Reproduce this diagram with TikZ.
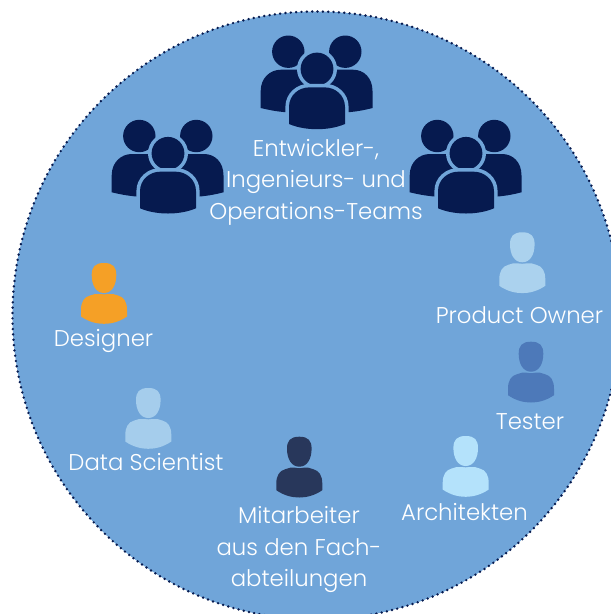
\documentclass[tikz,border=0pt]{standalone}
\usepackage{fontspec}
\setmainfont{Poppins}[UprightFont=* Light]
\definecolor{bgblue}{HTML}{70A5D9}
\definecolor{navy}{HTML}{061A4F}
\definecolor{cdesigner}{HTML}{F5A026}
\definecolor{cdata}{HTML}{A5CDEC}
\definecolor{cowner}{HTML}{ABD2EE}
\definecolor{ctester}{HTML}{4D79B9}
\definecolor{cfach}{HTML}{28375B}
\definecolor{carch}{HTML}{B4E2FB}
\tikzset{
  label text/.style={text=white,font=\fontsize{22.8}{31.5}\selectfont,inner sep=0pt,outer sep=0pt,align=center,anchor=base},
  person/.pic={
    \fill[#1] (-23,53.5) -- (-23,47) .. controls (-23,39) and (-20,34) .. (-14,32.5) -- (-9,31)
      -- (9,31) -- (14,32.5) .. controls (20,34) and (23,39) .. (23,47) -- (23,53.5)
      .. controls (15,59) and (7,60.8) .. (0,60.8) .. controls (-7,60.8) and (-15,59) .. (-23,53.5) -- cycle;
    \fill[#1,preaction={draw=bgblue,line width=2.6pt}] (0,0) .. controls (9,0) and (12.3,4) .. (12.3,12)
      .. controls (12.3,22) and (8,30) .. (0,30) .. controls (-8,30) and (-12.3,22) .. (-12.3,12)
      .. controls (-12.3,4) and (-9,0) .. (0,0) -- cycle;
  },
  team/.pic={
    \fill[navy] (-28.7,-17.3) circle[radius=16.2];
    \fill[navy] (28.3,-17.3) circle[radius=16.2];
    \fill[navy] (-56.3,39) -- (-56.3,22) .. controls (-56.3,9) and (-47,0.7) .. (-36,0.7)
       -- (36,0.7) .. controls (47,0.7) and (55.5,9) .. (55.5,22) -- (55.5,39)
       .. controls (46,41.5) and (37,43) .. (27,43.5) -- (-27,43.5)
       .. controls (-37,43) and (-46,41.5) .. (-56.3,39) -- cycle;
    \fill[navy,preaction={draw=bgblue,line width=7.2pt}] (0,0) circle[radius=16.4];
    \fill[navy,preaction={draw=bgblue,line width=7.2pt}] (-28,55) -- (-28,38) .. controls (-28,26) and (-18,18.4) .. (-8,18.4)
       -- (8,18.4) .. controls (18,18.4) and (28,26) .. (28,38) -- (28,55)
       .. controls (19,58.8) and (9,60.2) .. (0,60.2) .. controls (-9,60.2) and (-19,58.8) .. (-28,55) -- cycle;
  }
}
\begin{document}
\begin{tikzpicture}[x=1pt,y=-1pt]
\useasboundingbox (0,0) rectangle (611,614);
\clip (0,0) rectangle (611,614);
\fill[bgblue] (316.5,315.5) circle[radius=304];
\draw[navy,line width=2.7pt,line cap=round,dash pattern=on 0pt off 5.35pt] (316.5,315.5) circle[radius=304];
\pic at (168,153.3) {team};
\pic at (317,69) {team};
\pic at (466,153.3) {team};
\pic at (104,263) {person=cdesigner};
\pic at (148.3,388) {person=cdata};
\pic at (522.3,232.3) {person=cowner};
\pic at (531,341.7) {person=ctester};
\pic at (299.3,436.7) {person=cfach};
\pic at (465.7,436) {person=carch};
\node[label text] (teams) at (316,219) {Entwickler-,\\Ingenieurs- und\\Operations-Teams};
\node[label text] (owner) at (519.5,323.3) {Product Owner};
\node[label text] (tester) at (530,429) {Tester};
\node[label text] (designer) at (103.5,346) {Designer};
\node[label text] (data) at (146,470) {Data Scientist};
\node[label text] (fach) at (299,586.7) {Mitarbeiter\\aus den Fach-\\abteilungen};
\node[label text] (arch) at (464.5,520.7) {Architekten};
\end{tikzpicture}
\end{document}
